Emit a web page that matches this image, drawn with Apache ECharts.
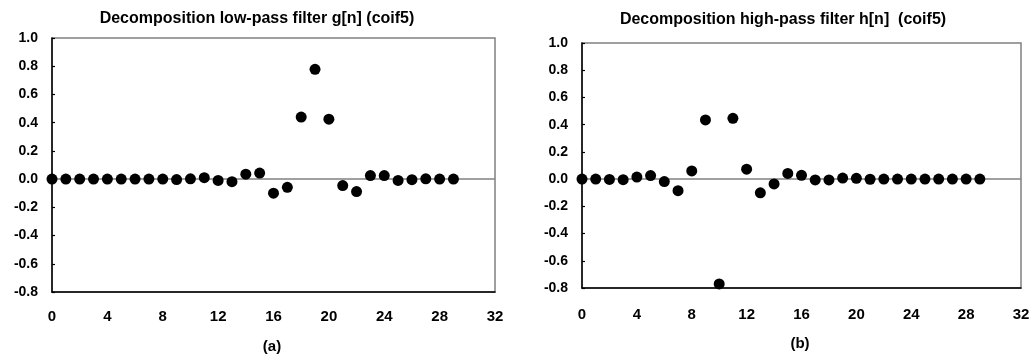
<!DOCTYPE html>
<html><head><meta charset="utf-8">
<script src="https://cdn.jsdelivr.net/npm/echarts@6/dist/echarts.min.js"></script>
<style>html,body{margin:0;padding:0;background:#fff}#c{width:1033px;height:356px}</style>
</head><body><div id="c"></div>
<script>
const n = [0,1,2,3,4,5,6,7,8,9,10,11,12,13,14,15,16,17,18,19,20,21,22,23,24,25,26,27,28,29];
const gLow = [0.000,0.000,0.000,0.000,0.000,0.000,0.000,0.000,0.000,-0.003,0.002,0.010,-0.009,-0.018,0.035,0.043,-0.100,-0.058,0.440,0.778,0.425,-0.046,-0.088,0.025,0.025,-0.009,-0.004,0.002,0.000,0.000];
const hHigh = [0.000,0.000,-0.002,-0.004,0.015,0.026,-0.018,-0.085,0.060,0.435,-0.770,0.447,0.073,-0.101,-0.035,0.042,0.028,-0.006,-0.006,0.008,0.006,-0.001,0.000,0.000,0.000,0.000,0.000,0.000,0.000,0.000];
const xTicks = {min:0, max:32, interval:4};
const yTicks = {min:-0.8, max:1.0, interval:0.2};
const titles = ['Decomposition low-pass filter g[n] (coif5)', 'Decomposition high-pass filter h[n]  (coif5)'];
const captions = ['(a)', '(b)'];

const FONT = '"Liberation Sans", Arial, sans-serif';
const chart = echarts.init(document.getElementById('c'));
function xAxis(gi, margin){
  return {type:'value', gridIndex:gi, min:xTicks.min, max:xTicks.max, interval:xTicks.interval,
    axisLine:{show:true, onZero:false, lineStyle:{color:'#000', width:1.5}},
    axisTick:{show:false}, splitLine:{show:false},
    axisLabel:{fontFamily:FONT, fontWeight:'bold', fontSize:15, color:'#000', margin:margin}};
}
function yAxis(gi){
  return {type:'value', gridIndex:gi, min:yTicks.min, max:yTicks.max, interval:yTicks.interval,
    axisLine:{show:true, onZero:false, lineStyle:{color:'#000', width:1.5}},
    axisTick:{show:true, inside:true, length:3, lineStyle:{color:'#000', width:1.2}},
    splitLine:{show:false},
    axisLabel:{fontFamily:FONT, fontWeight:'bold', fontSize:14, color:'#000', margin:14,
      formatter:v=>v.toFixed(1)}};
}
function series(gi, vals){
  return {type:'scatter', xAxisIndex:gi, yAxisIndex:gi, symbolSize:11, z:5,
    itemStyle:{color:'#000', opacity:1},
    data:n.map((x,i)=>[x, vals[i]]),
    markLine:{silent:true, symbol:'none', label:{show:false}, z:2,
      lineStyle:{color:'#808080', width:1.5, type:'solid'}, data:[{yAxis:0}]}};
}
const tf = s => 'bold ' + s + 'px "Liberation Sans", Arial, sans-serif';
chart.setOption({
  animation:false,
  grid:[
    {left:52, right:538, top:38, bottom:64, show:true, borderColor:'#808080', borderWidth:1.5, backgroundColor:'transparent'},
    {left:582, right:12, top:43, bottom:68, show:true, borderColor:'#808080', borderWidth:1.5, backgroundColor:'transparent'}
  ],
  xAxis:[xAxis(0,17), xAxis(1,19)],
  yAxis:[yAxis(0), yAxis(1)],
  series:[series(0,gLow), series(1,hHigh)],
  graphic:[
    {type:'text', x:257, y:19, style:{text:titles[0], font:tf(16), fill:'#000', textAlign:'center', textVerticalAlign:'middle'}},
    {type:'text', x:783, y:20, style:{text:titles[1], font:tf(16), fill:'#000', textAlign:'center', textVerticalAlign:'middle'}},
    {type:'text', x:272, y:347, style:{text:captions[0], font:tf(15), fill:'#000', textAlign:'center', textVerticalAlign:'middle'}},
    {type:'text', x:800, y:344, style:{text:captions[1], font:tf(15), fill:'#000', textAlign:'center', textVerticalAlign:'middle'}}
  ]
});
</script></body></html>
